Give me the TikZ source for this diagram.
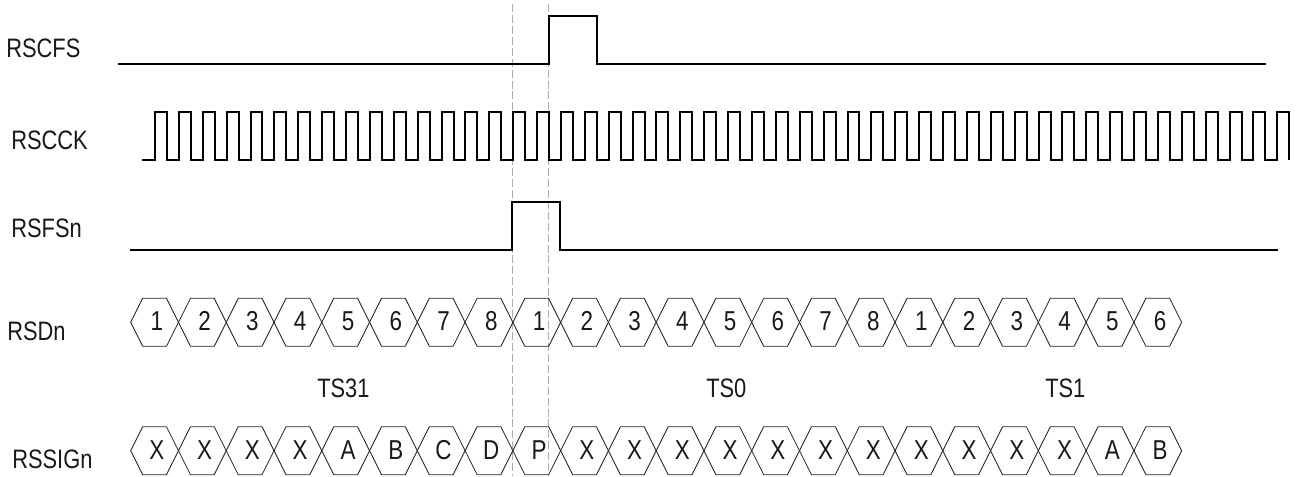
\documentclass[tikz,border=0pt]{standalone}
\usepackage{fontspec}
\setmainfont[FakeStretch=0.82]{Liberation Sans}
\tikzset{
  wave/.style={draw=black,line width=1.25pt,line join=miter,line cap=butt},
  hexa/.style={draw=black!85,line width=0.65pt,line join=miter},
  guide/.style={draw=black!32,line width=0.75pt,dash pattern=on 6pt off 2.2pt},
  siglabel/.style={inner sep=0pt,anchor=base west,font=\fontsize{20pt}{22pt}\selectfont,text=black!90},
  hexlabel/.style={inner sep=0pt,anchor=center,font=\fontsize{20.5pt}{22pt}\selectfont,text=black!90},
}
\begin{document}
\begin{tikzpicture}[x=0.75pt,y=-0.75pt]
\useasboundingbox (0,0) rectangle (1301,476);
% guides
\coordinate (ga1) at (512,4); \coordinate (ga2) at (512,476);
\coordinate (gb1) at (548.3,4); \coordinate (gb2) at (548.3,476);
\draw[guide] (ga1) -- (ga2);
\draw[guide] (gb1) -- (gb2);
% labels
\node[siglabel] (lcfs) at (6,57) {RSCFS};
\node[siglabel] (lcck) at (11,149) {RSCCK};
\node[siglabel] (lfsn) at (11,237) {RSFSn};
\node[siglabel] (ldn) at (7,340) {RSDn};
\node[siglabel] (lsig) at (12,468) {RSSIGn};
\node[siglabel] (ts31) at (317,397) {TS31};
\node[siglabel] (ts0) at (706,397) {TS0};
\node[siglabel] (ts1) at (1045,397) {TS1};
% RSCFS
\draw[wave] (118,64) -- (549,64) -- (549,16) -- (597,16) -- (597,64) -- (1266,64);
% RSCCK
\draw[wave] (142,160) -- (155,160)
  \foreach \i in {0,...,47} {
    -- ({round(155+\i*23.88)},112) -- ({round(155+(\i+0.5)*23.88)},112)
    -- ({round(155+(\i+0.5)*23.88)},160)
    \ifnum\i<47 -- ({round(155+(\i+1)*23.88)},160) \fi
  };
% RSFSn
\draw[wave] (129.5,250) -- (512,250) -- (512,202) -- (560,202) -- (560,250) -- (1277.5,250);
% RSDn
\foreach \t [count=\k from 0] in {1,2,3,4,5,6,7,8,1,2,3,4,5,6,7,8,1,2,3,4,5,6} {
  \draw[hexa] ({130.7+\k*47.77},322.3) -- ({142.7+\k*47.77},298.3) -- ({166.47+\k*47.77},298.3)
    -- ({178.47+\k*47.77},322.3) -- ({166.47+\k*47.77},346.3) -- ({142.7+\k*47.77},346.3) -- cycle;
  \node[hexlabel] (d\k) at ({156.9+\k*47.77},321.3) {\t};
}
% RSSIGn
\foreach \t [count=\k from 0] in {X,X,X,X,A,B,C,D,P,X,X,X,X,X,X,X,X,X,X,X,A,B} {
  \draw[hexa] ({130.7+\k*47.77},450.7) -- ({142.7+\k*47.77},426.7) -- ({166.47+\k*47.77},426.7)
    -- ({178.47+\k*47.77},450.7) -- ({166.47+\k*47.77},474.7) -- ({142.7+\k*47.77},474.7) -- cycle;
  \node[hexlabel] (s\k) at ({156.9+\k*47.77},449.7) {\t};
}
\end{tikzpicture}
\end{document}
